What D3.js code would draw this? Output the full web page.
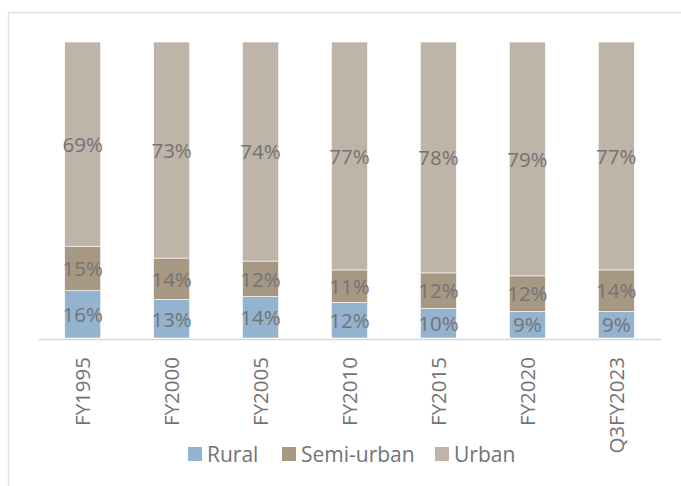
<!DOCTYPE html>
<html lang="en">
<head>
    <meta charset="UTF-8">
    <title>Deposits by population group</title>
    <style>
        body {
            margin: 0;
            padding: 0;
            background-color: #ffffff;
            font-family: 'Open Sans', sans-serif;
        }
        svg {
            display: block;
        }
    </style>
</head>
<body>
    <svg id="chart" width="681" height="486"></svg>
    <script src="https://d3js.org/d3.v7.min.js"></script>
    <script>
        const categories = ["FY1995", "FY2000", "FY2005", "FY2010", "FY2015", "FY2020", "Q3FY2023"];
        const seriesNames = ["Rural", "Semi-urban", "Urban"];
        const rural = [16, 13, 14, 12, 10, 9, 9];
        const semiUrban = [15, 14, 12, 11, 12, 12, 14];
        const urban = [69, 73, 74, 77, 78, 79, 77];
        const colors = ["#94b3cf", "#a79883", "#beb5a8"];

        const svg = d3.select("#chart");
        const margin = {top: 42, left: 38, right: 20, bottom: 148};
        const width = 623;
        const height = 296;

        // frame around the chart area
        svg.append("rect")
            .attr("x", 8.5)
            .attr("y", 12.5)
            .attr("width", 700)
            .attr("height", 500)
            .attr("fill", "none")
            .attr("stroke", "#e3e3e3")
            .attr("stroke-width", 1.5);

        const chart = svg.append("g").attr("transform", `translate(${margin.left}, ${margin.top})`);

        const rows = categories.map((c, i) => ({
            category: c,
            "Rural": rural[i],
            "Semi-urban": semiUrban[i],
            "Urban": urban[i]
        }));
        const stacked = d3.stack().keys(seriesNames)(rows);

        const x = d3.scaleBand()
            .domain(categories)
            .range([0, width])
            .paddingInner(0.595)
            .paddingOuter(0.3);
        const y = d3.scaleLinear().domain([0, 100]).range([height, 0]);

        stacked.forEach((layer, si) => {
            const g = chart.append("g");
            g.selectAll("rect")
                .data(layer)
                .enter()
                .append("rect")
                .attr("x", d => x(d.data.category))
                .attr("y", d => y(d[1]))
                .attr("width", x.bandwidth())
                .attr("height", d => y(d[0]) - y(d[1]))
                .attr("fill", colors[si])
                .attr("stroke", "#ffffff")
                .attr("stroke-width", 0.6);
            g.selectAll("text")
                .data(layer)
                .enter()
                .append("text")
                .attr("x", d => x(d.data.category) + x.bandwidth() / 2)
                .attr("y", d => (y(d[0]) + y(d[1])) / 2)
                .attr("dy", "0.38em")
                .attr("text-anchor", "middle")
                .attr("font-size", 20.5)
                .attr("fill", "#737373")
                .text(d => (d[1] - d[0]) + "%");
        });

        // axis line and category labels
        const xAxis = chart.append("g")
            .attr("transform", `translate(0, ${height + 1})`)
            .call(d3.axisBottom(x).tickSize(0).tickPadding(0));
        xAxis.select(".domain").attr("stroke", "#d9d9d9").attr("stroke-width", 1.5);
        xAxis.selectAll("text")
            .attr("font-family", "'Open Sans', sans-serif")
            .attr("font-size", 20.5)
            .attr("fill", "#737373")
            .attr("text-anchor", "end")
            .attr("transform", "translate(0, 18) rotate(-90)")
            .attr("dx", 0)
            .attr("dy", "0.36em")
            .attr("x", 0)
            .attr("y", 0);

        // legend
        const legendItems = [
            {name: seriesNames[0], x: 188},
            {name: seriesNames[1], x: 282},
            {name: seriesNames[2], x: 435}
        ];
        const legend = svg.append("g");
        legendItems.forEach((item, i) => {
            legend.append("rect")
                .attr("x", item.x)
                .attr("y", 447)
                .attr("width", 14)
                .attr("height", 14)
                .attr("fill", colors[i]);
            legend.append("text")
                .attr("x", item.x + 19)
                .attr("y", 454)
                .attr("dy", "0.36em")
                .attr("font-size", 21)
                .attr("fill", "#737373")
                .text(item.name);
        });
    </script>
</body>
</html>
